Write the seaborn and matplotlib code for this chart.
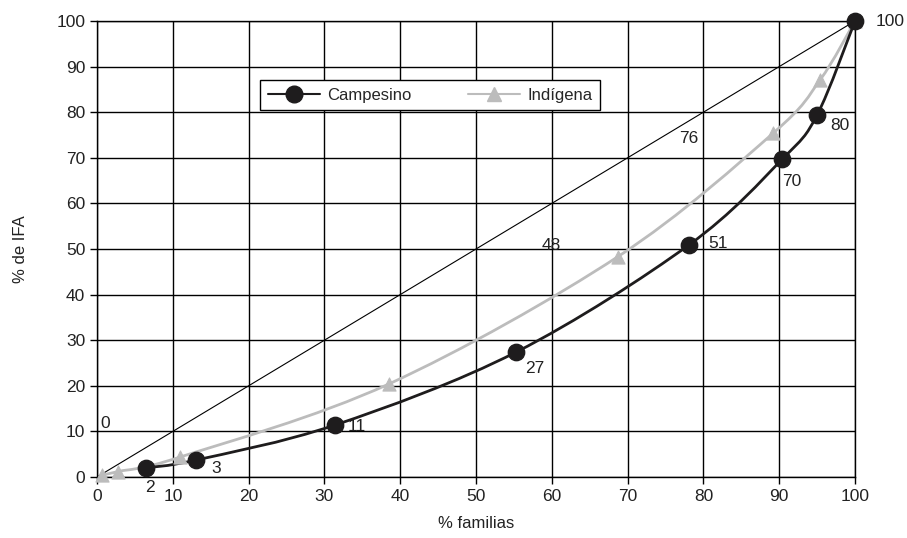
import matplotlib
matplotlib.use("Agg")
import matplotlib.pyplot as plt
import seaborn as sns
import numpy as np
from matplotlib.path import Path
from matplotlib.patches import PathPatch
from matplotlib.lines import Line2D

# data
camp_x = [6.4, 13.0, 31.4, 55.3, 78.1, 90.4, 95.0, 100.0]
camp_y = [2.0, 3.7, 11.4, 27.4, 50.9, 69.7, 79.4, 100.0]
indi_x = [0.6, 2.8, 11.0, 38.5, 68.7, 89.2, 95.4, 100.0]
indi_y = [0.4, 1.2, 4.4, 20.4, 48.3, 75.4, 87.1, 100.0]

# point labels (text, x, y)
labels = [("0", 1.1, 11.8), ("2", 7.0, -2.2), ("3", 15.7, 1.8), ("11", 34.3, 11.0),
          ("27", 57.8, 23.9), ("48", 59.9, 50.7), ("51", 81.9, 51.3),
          ("70", 91.7, 64.7), ("76", 78.0, 74.3), ("80", 98.0, 77.0), ("100", 104.6, 99.8)]

sns.set_style("white")
plt.rcParams['font.family'] = ['Liberation Sans', 'DejaVu Sans']

fig = plt.figure(figsize=(9.07, 5.38), dpi=100)
ax = fig.add_axes([0.107, 0.1134, 0.8357, 0.8476])

dark = "#1e1c1d"
grey = "#bcbcbc"
txt = "#222222"


def smooth_path(xs, ys):
    # Catmull-Rom style bezier through the points (drawn by matplotlib)
    pts = np.column_stack([xs, ys])
    verts = [pts[0]]
    codes = [Path.MOVETO]
    for i in range(len(pts) - 1):
        p0 = pts[i - 1] if i > 0 else pts[i]
        p1 = pts[i]
        p2 = pts[i + 1]
        p3 = pts[i + 2] if i + 2 < len(pts) else pts[i + 1]
        c1 = p1 + (p2 - p0) / 6
        c2 = p2 - (p3 - p1) / 6
        verts += [c1, c2, p2]
        codes += [Path.CURVE4] * 3
    return Path(verts, codes)


# diagonal
ax.plot([0, 100], [0, 100], color="black", lw=0.8, zorder=2)

ax.add_patch(PathPatch(smooth_path(indi_x, indi_y), fill=False, edgecolor=grey, lw=2, zorder=3))
ax.add_patch(PathPatch(smooth_path(camp_x, camp_y), fill=False, edgecolor=dark, lw=2, zorder=4))

sns.scatterplot(x=indi_x, y=indi_y, marker="^", s=90, color=grey, edgecolor=grey,
                ax=ax, zorder=5, clip_on=False)
sns.scatterplot(x=camp_x, y=camp_y, marker="o", s=140, color=dark, edgecolor=dark,
                ax=ax, zorder=6, clip_on=False)

for t, x, y in labels:
    ax.text(x, y, t, fontsize=12.5, ha="center", va="center", color=txt)

ax.set_xlim(0, 100)
ax.set_ylim(0, 100)
ax.set_xticks(range(0, 101, 10))
ax.set_yticks(range(0, 101, 10))
ax.grid(True, color="black", lw=1)
ax.set_axisbelow(True)
for s in ax.spines.values():
    s.set_color("black")
    s.set_linewidth(1)
ax.tick_params(axis="both", direction="out", length=5, width=1, color="black",
               labelsize=12.5, labelcolor=txt, left=True, bottom=True)
ax.set_xlabel("% familias", fontsize=12, color=txt, labelpad=9)
ax.set_ylabel("% de IFA", fontsize=12, color=txt, labelpad=20)

handles = [Line2D([], [], color=dark, lw=1.5, marker="o", markersize=12),
           Line2D([], [], color=grey, lw=1.5, marker="^", markersize=9.5)]
leg = ax.legend(handles, ["Campesino", "Indígena"], ncol=2, loc="upper left",
                bbox_to_anchor=(0.2045, 0.888), fontsize=12, frameon=True,
                fancybox=False, framealpha=1, edgecolor="black", columnspacing=3.4,
                handlelength=3.1, handletextpad=0.45, borderpad=0.45)
leg.get_frame().set_linewidth(1)

fig.savefig("out.png", dpi=100)
